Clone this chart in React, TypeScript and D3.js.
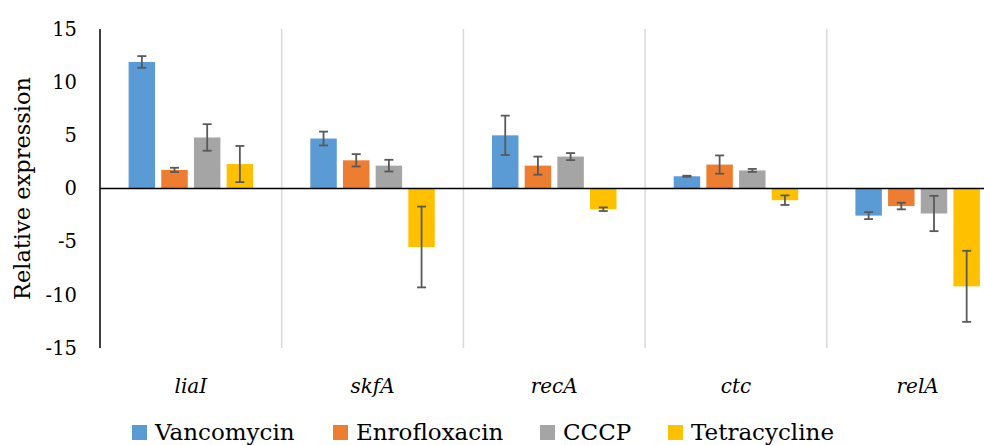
import React, { useRef, useEffect } from "react";
import * as d3 from "d3";

const genes = ["liaI", "skfA", "recA", "ctc", "relA"];
const treatments = ["Vancomycin", "Enrofloxacin", "CCCP", "Tetracycline"];
const colors = ["#5B9BD5", "#ED7D31", "#A5A5A5", "#FFC000"];

// mean values per treatment, in gene order
const vancomycin = [11.9, 4.7, 5.0, 1.15, -2.55];
const enrofloxacin = [1.75, 2.65, 2.15, 2.25, -1.65];
const cccp = [4.8, 2.15, 3.0, 1.7, -2.35];
const tetracycline = [2.3, -5.5, -1.95, -1.1, -9.2];

// error (±) per treatment
const vancomycinErr = [0.55, 0.65, 1.85, 0.05, 0.33];
const enrofloxacinErr = [0.2, 0.58, 0.85, 0.86, 0.31];
const cccpErr = [1.25, 0.55, 0.33, 0.14, 1.66];
const tetracyclineErr = [1.7, 3.8, 0.17, 0.45, 3.34];

const yTicks = [15, 10, 5, 0, -5, -10, -15];

const values = [vancomycin, enrofloxacin, cccp, tetracycline];
const errors = [vancomycinErr, enrofloxacinErr, cccpErr, tetracyclineErr];

const W = 984;
const H = 445;

const App = () => {
  const svgRef = useRef<SVGSVGElement>(null);

  useEffect(() => {
    const svg = d3.select(svgRef.current);
    svg.selectAll("*").remove();

    const font = "'DejaVu Serif', serif";
    const left = 100;
    const band = 181.7;
    const x = d3
      .scaleBand()
      .domain(genes)
      .range([left, left + band * genes.length])
      .paddingInner(0)
      .paddingOuter(0);

    const y = d3.scaleLinear().domain([-15, 15]).range([348, 29]);

    // inner scale for bars within a gene
    const x1 = d3
      .scaleBand()
      .domain(treatments)
      .range([25.5, band - 25.5])
      .paddingInner(0.19)
      .paddingOuter(0.095);

    // category separators
    svg
      .append("g")
      .selectAll("line")
      .data(genes)
      .join("line")
      .attr("x1", (d, i) => left + band * (i + 1))
      .attr("x2", (d, i) => left + band * (i + 1))
      .attr("y1", y(15))
      .attr("y2", y(-15))
      .attr("stroke", "#d9d9d9")
      .attr("stroke-width", 1.5);

    // bars
    const groups = svg
      .append("g")
      .selectAll("g")
      .data(treatments)
      .join("g")
      .attr("fill", (d, i) => colors[i]);

    groups.each(function (t, ti) {
      const g = d3.select(this);
      g.selectAll("rect")
        .data(genes)
        .join("rect")
        .attr("x", (gene) => (x(gene) as number) + (x1(t) as number))
        .attr("width", x1.bandwidth())
        .attr("y", (gene, gi) => y(Math.max(0, values[ti][gi])))
        .attr("height", (gene, gi) => Math.abs(y(values[ti][gi]) - y(0)));
    });

    // zero line
    svg
      .append("line")
      .attr("x1", left)
      .attr("x2", W)
      .attr("y1", y(0))
      .attr("y2", y(0))
      .attr("stroke", "#000")
      .attr("stroke-width", 1.5);

    // error bars
    const eb = svg.append("g").attr("stroke", "#595959").attr("stroke-width", 1.8);
    treatments.forEach((t, ti) => {
      genes.forEach((gene, gi) => {
        const cx = (x(gene) as number) + (x1(t) as number) + x1.bandwidth() / 2;
        const v = values[ti][gi];
        const e = errors[ti][gi];
        const y0 = y(v + e);
        const y1v = y(v - e);
        eb.append("line").attr("x1", cx).attr("x2", cx).attr("y1", y0).attr("y2", y1v);
        eb.append("line").attr("x1", cx - 4.5).attr("x2", cx + 4.5).attr("y1", y0).attr("y2", y0);
        eb.append("line").attr("x1", cx - 4.5).attr("x2", cx + 4.5).attr("y1", y1v).attr("y2", y1v);
      });
    });

    // y axis
    svg
      .append("line")
      .attr("x1", left)
      .attr("x2", left)
      .attr("y1", y(15))
      .attr("y2", y(-15))
      .attr("stroke", "#000")
      .attr("stroke-width", 1.5);

    svg
      .append("g")
      .selectAll("text")
      .data(yTicks)
      .join("text")
      .attr("x", 77)
      .attr("y", (d) => y(d))
      .attr("dy", "0.35em")
      .attr("text-anchor", "end")
      .style("font-family", font)
      .style("font-size", "19.5px")
      .attr("fill", "#000")
      .text((d) => d);

    svg
      .append("text")
      .attr("transform", `translate(30,${y(0)}) rotate(-90)`)
      .attr("text-anchor", "middle")
      .style("font-family", font)
      .style("font-size", "22.5px")
      .attr("fill", "#000")
      .text("Relative expression");

    // category labels
    svg
      .append("g")
      .selectAll("text")
      .data(genes)
      .join("text")
      .attr("x", (d) => (x(d) as number) + band / 2)
      .attr("y", 393)
      .attr("text-anchor", "middle")
      .style("font-family", font)
      .style("font-size", "20px")
      .style("font-style", "italic")
      .attr("fill", "#000")
      .text((d) => d);

    // legend
    const legendX = [132, 333, 540, 668];
    const lg = svg
      .append("g")
      .selectAll("g")
      .data(treatments)
      .join("g")
      .attr("transform", (d, i) => `translate(${legendX[i]},440)`);
    lg.append("rect")
      .attr("x", 0)
      .attr("y", -15)
      .attr("width", 15)
      .attr("height", 15)
      .attr("fill", (d, i) => colors[i]);
    lg.append("text")
      .attr("x", 23)
      .attr("y", 0)
      .style("font-family", font)
      .style("font-size", "23px")
      .attr("fill", "#000")
      .text((d) => d);
  }, []);

  return (
    <svg
      ref={svgRef}
      width={W}
      height={H}
      style={{ position: "absolute", left: 0, top: 0, background: "#fff" }}
    ></svg>
  );
};

export default App;
